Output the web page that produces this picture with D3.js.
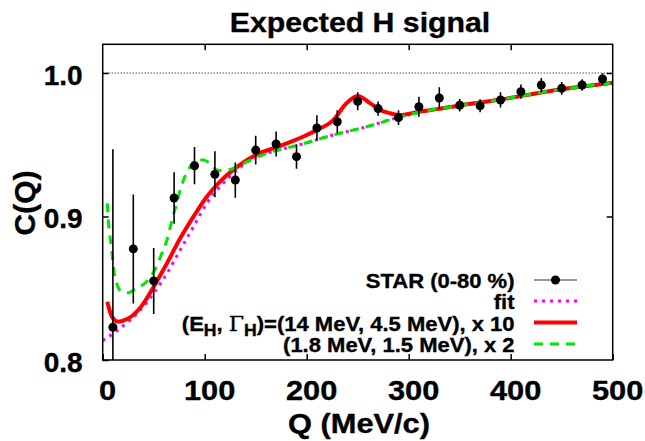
<!DOCTYPE html>
<html>
<head>
<meta charset="utf-8">
<script src="https://cdn.jsdelivr.net/npm/d3@7"></script>
<style>
body { margin: 0; background: #fff; }
text { font-family: "Liberation Sans", Arial, sans-serif; font-weight: bold; stroke: #000; stroke-width: 0.35px; }
</style>
</head>
<body>
<div id="chartContainer"></div>
<script>
// STAR (0-80 %) points
var qData = [10, 30, 50, 70, 90, 110, 130, 150, 170, 190, 210, 230, 250,
             270, 290, 310, 330, 350, 370, 390, 410, 430, 450, 470, 490];
var cData = [0.8228, 0.8774, 0.8551, 0.9129, 0.9354, 0.9294, 0.9254, 0.9463, 0.9505,
             0.9417, 0.9617, 0.9660, 0.9803, 0.9752, 0.9689, 0.9765, 0.9826, 0.9775,
             0.9772, 0.9812, 0.9870, 0.9916, 0.9893, 0.9916, 0.9958];
var cErr = [0.124, 0.038, 0.023, 0.018, 0.013, 0.016, 0.0123, 0.010, 0.0087,
            0.0084, 0.0088, 0.008, 0.0063, 0.005, 0.0052, 0.007, 0.0075, 0.0043,
            0.0045, 0.0053, 0.005, 0.005, 0.0045, 0.004, 0.004];

// fit curve (magenta dotted)
var fitQ = [0, 17, 37, 50, 63, 76, 89, 102, 115, 125, 135, 144, 161, 193, 226,
            259, 292, 324, 350, 390, 439, 500];
var fitC = [0.8135, 0.8221, 0.8348, 0.8465, 0.8604, 0.8767, 0.8929, 0.9092, 0.9208,
            0.9280, 0.9345, 0.9390, 0.9440, 0.9500, 0.9568, 0.9626, 0.9695, 0.9745,
            0.9772, 0.9815, 0.9875, 0.9932];

// (14 MeV, 4.5 MeV) x 10 (red)
var redQ = [4.5, 9, 15, 22, 30, 40, 50, 63, 76, 89, 102, 115, 127, 150, 170, 193,
            210, 226, 239, 250, 262, 272, 282, 292, 310, 330, 350, 390, 439, 500];
var redC = [0.8406, 0.8302, 0.8267, 0.8279, 0.8314, 0.8395, 0.8511, 0.8674, 0.8848,
            0.8999, 0.9138, 0.9243, 0.9320, 0.9429, 0.9482, 0.9545, 0.9603, 0.9672,
            0.9789, 0.9840, 0.9790, 0.9742, 0.9719, 0.9707, 0.9730, 0.9750, 0.9774,
            0.9815, 0.9875, 0.9932];

// (1.8 MeV, 1.5 MeV) x 2 (green)
var greenQ = [4.5, 5.5, 8.8, 10.4, 13.7, 18.6, 25, 33, 43, 51, 58, 63, 68, 72.5, 77,
              82, 87, 92, 99, 105, 112, 118, 125, 144, 161, 193, 226, 259, 292, 324,
              350, 390, 439, 500];
var greenC = [0.9092, 0.8976, 0.8767, 0.8650, 0.8534, 0.8476, 0.8469, 0.8500, 0.8546,
              0.8627, 0.8743, 0.8836, 0.8976, 0.9092, 0.9208, 0.9301, 0.9359, 0.9394,
              0.9394, 0.9371, 0.9324, 0.9319, 0.9328, 0.9390, 0.9440, 0.9500, 0.9568,
              0.9626, 0.9695, 0.9745, 0.9772, 0.9815, 0.9875, 0.9932];

var xTicks = [0, 100, 200, 300, 400, 500];
var yTicks = [0.8, 0.9, 1.0];
var legendLabels = ['STAR (0-80 %)', 'fit', '(E_H, \u0393_H)=(14 MeV, 4.5 MeV), x 10',
                    '(1.8 MeV, 1.5 MeV), x 2'];

var width = 645,
    height = 441;
var plotLeft = 102.7, plotRight = 612.7, plotTop = 44.3, plotBottom = 360;
var stretch = 1.1;   // text in the original is drawn a bit wide

var svg = d3.select('#chartContainer')
    .append('svg')
    .attr('width', width)
    .attr('height', height);

svg.append('rect').attr('width', width).attr('height', height).attr('fill', '#fff');

var xScale = d3.scaleLinear().domain([0, 500]).range([plotLeft, plotRight]);
var yScale = d3.scaleLinear().domain([0.8, 1.02]).range([plotBottom, plotTop]);

svg.append('clipPath').attr('id', 'plotClip')
    .append('rect')
    .attr('x', plotLeft).attr('y', plotTop)
    .attr('width', plotRight - plotLeft).attr('height', plotBottom - plotTop);

// axes, ticks pointing inwards
var xAxisG = svg.append('g')
    .attr('transform', 'translate(0,' + plotBottom + ')')
    .call(d3.axisBottom(xScale).tickValues(xTicks).tickSize(-6).tickSizeOuter(0).tickPadding(20));
xAxisG.selectAll('text')
    .attr('font-size', 28)
    .attr('dx', 4)
    .attr('transform', 'scale(' + stretch + ',1)');

var yAxisG = svg.append('g')
    .attr('transform', 'translate(' + plotLeft + ',0)')
    .call(d3.axisLeft(yScale).tickValues(yTicks).tickFormat(d3.format('.1f'))
        .tickSize(-6).tickSizeOuter(0).tickPadding(20));
yAxisG.selectAll('text')
    .attr('font-size', 28)
    .attr('dy', '0.4em');

svg.append('g')
    .attr('transform', 'translate(0,' + plotTop + ')')
    .call(d3.axisTop(xScale).tickValues([100, 200, 300, 400]).tickSize(-6).tickSizeOuter(0).tickFormat(''));
svg.append('g')
    .attr('transform', 'translate(' + plotRight + ',0)')
    .call(d3.axisRight(yScale).tickValues([0.9, 1.0]).tickSize(-6).tickSizeOuter(0).tickFormat(''));

svg.selectAll('.domain').remove();
svg.selectAll('.tick line').attr('stroke-width', 1.5);

// dotted reference line at 1.0
svg.append('line')
    .attr('x1', plotLeft).attr('x2', plotRight)
    .attr('y1', yScale(1.0)).attr('y2', yScale(1.0))
    .attr('stroke', '#000')
    .attr('stroke-width', 1)
    .attr('stroke-dasharray', '1,2');

var plot = svg.append('g').attr('clip-path', 'url(#plotClip)');

function curve(qs, cs) {
    return d3.line()
        .x(function (d) { return xScale(d); })
        .y(function (d, i) { return yScale(cs[i]); })
        .curve(d3.curveMonotoneX)(qs);
}

plot.append('path')
    .attr('d', curve(fitQ, fitC))
    .attr('fill', 'none')
    .attr('stroke', '#ff00ff')
    .attr('stroke-width', 3)
    .attr('stroke-dasharray', '3,5');

plot.append('path')
    .attr('d', curve(redQ, redC))
    .attr('fill', 'none')
    .attr('stroke', '#ff0000')
    .attr('stroke-width', 4);

plot.append('path')
    .attr('d', curve(greenQ, greenC))
    .attr('fill', 'none')
    .attr('stroke', '#00e600')
    .attr('stroke-width', 3)
    .attr('stroke-dasharray', '9,7');

// error bars and points
plot.selectAll('line.err')
    .data(qData)
    .enter()
    .append('line')
    .attr('class', 'err')
    .attr('x1', function (d) { return xScale(d); })
    .attr('x2', function (d) { return xScale(d); })
    .attr('y1', function (d, i) { return yScale(cData[i] - cErr[i]); })
    .attr('y2', function (d, i) { return yScale(cData[i] + cErr[i]); })
    .attr('stroke', '#000')
    .attr('stroke-width', 1.6);

plot.selectAll('circle')
    .data(qData)
    .enter()
    .append('circle')
    .attr('cx', function (d) { return xScale(d); })
    .attr('cy', function (d, i) { return yScale(cData[i]); })
    .attr('r', 4.5)
    .attr('fill', '#000');

// frame
svg.append('rect')
    .attr('x', plotLeft).attr('y', plotTop)
    .attr('width', plotRight - plotLeft).attr('height', plotBottom - plotTop)
    .attr('fill', 'none')
    .attr('stroke', '#000')
    .attr('stroke-width', 1.5);

// legend
var legX = 514.5, lineX1 = 534, lineX2 = 577;
var legY = [280, 301, 322.5, 344];

legendLabels.forEach(function (label, i) {
    var t = svg.append('text')
        .attr('transform', 'translate(' + legX + ',' + (legY[i] + 8) + ') scale(' + stretch + ',1)')
        .attr('text-anchor', 'end')
        .attr('font-size', 20);
    // split on "_H" to get subscripts
    var parts = label.split('_H');
    parts.forEach(function (p, j) {
        if (p.indexOf('\u0393') >= 0) {
            var k = p.indexOf('\u0393');
            t.append('tspan').text(p.slice(0, k)).attr('dy', j > 0 ? -5 : null);
            t.append('tspan').text('\u0393')
                .style('font-family', '"DejaVu Serif", serif')
                .style('font-weight', 'normal');
        } else {
            t.append('tspan').text(p).attr('dy', j > 0 ? -5 : null);
        }
        if (j < parts.length - 1) {
            t.append('tspan').text('H').attr('font-size', 16).attr('dy', 5);
        }
    });
});

svg.append('line')
    .attr('x1', lineX1).attr('x2', lineX2)
    .attr('y1', legY[0]).attr('y2', legY[0])
    .attr('stroke', '#333').attr('stroke-width', 1);
svg.append('circle')
    .attr('cx', (lineX1 + lineX2) / 2).attr('cy', legY[0])
    .attr('r', 4.5).attr('fill', '#000');
svg.append('line')
    .attr('x1', lineX1).attr('x2', lineX2)
    .attr('y1', legY[1]).attr('y2', legY[1])
    .attr('stroke', '#ff00ff').attr('stroke-width', 3).attr('stroke-dasharray', '3,5');
svg.append('line')
    .attr('x1', lineX1).attr('x2', lineX2)
    .attr('y1', legY[2]).attr('y2', legY[2])
    .attr('stroke', '#ff0000').attr('stroke-width', 4);
svg.append('line')
    .attr('x1', lineX1).attr('x2', lineX2)
    .attr('y1', legY[3]).attr('y2', legY[3])
    .attr('stroke', '#00e600').attr('stroke-width', 3).attr('stroke-dasharray', '9,7');

// titles
svg.append('text')
    .attr('transform', 'translate(360,32) scale(' + stretch + ',1)')
    .attr('text-anchor', 'middle')
    .attr('font-size', 27.5)
    .text('Expected H signal');

svg.append('text')
    .attr('transform', 'translate(359,433) scale(' + stretch + ',1)')
    .attr('text-anchor', 'middle')
    .attr('font-size', 28)
    .text('Q (MeV/c)');

svg.append('text')
    .attr('transform', 'translate(35,203) rotate(-90)')
    .attr('text-anchor', 'middle')
    .attr('font-size', 30)
    .text('C(Q)');
</script>
</body>
</html>
